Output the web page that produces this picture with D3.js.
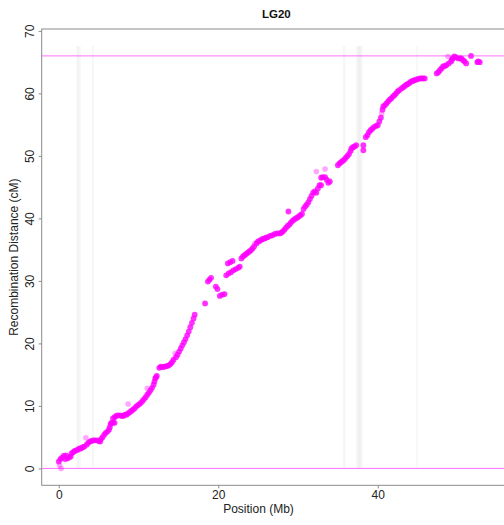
<!DOCTYPE html>
<html>
<head>
<meta charset="utf-8">
<script src="https://cdn.jsdelivr.net/npm/d3@7/dist/d3.min.js"></script>
<style>
  html, body { margin: 0; padding: 0; background: #fff; }
  svg { display: block; font-family: "Liberation Sans", Arial, Helvetica, sans-serif; }
</style>
</head>
<body>
<svg id="chart" width="504" height="525"></svg>
<script>
// Linkage group 20: marker physical position (Mb) vs. genetic map position (cM)
const positionMb = [
  0.0, 0.2, 0.4, 0.6, 0.8, 0.9, 1.1, 1.3, 1.5, 1.6, 1.8, 2.0, 2.2, 2.4, 2.6, 2.8, 3.0, 3.2,
  3.5, 3.7, 3.9, 4.1, 4.3, 4.5, 4.8, 5.0, 5.2, 5.3, 5.5, 5.7, 5.9, 6.1, 6.3, 6.4, 6.5, 6.6,
  6.8, 7.0, 6.8, 7.0, 7.2, 7.4, 7.7, 7.9, 8.1, 8.3, 8.5, 8.7, 8.9, 9.1, 9.3, 9.5, 9.7, 9.9,
  10.1, 10.3, 10.5, 10.7, 10.9, 11.1, 11.3, 11.5, 11.7, 11.9, 12.0, 12.1, 12.2, 12.3,
  12.6, 12.8, 13.0, 13.2, 13.4, 13.6, 13.8, 14.0, 14.2, 14.4, 14.7, 14.9, 15.1, 15.3,
  15.5, 15.7, 15.9, 16.1, 16.3, 16.5, 16.7, 16.9, 17.05,
  18.35, 18.7, 18.9, 19.1, 19.7, 19.9, 20.2, 20.5, 20.8,
  21.0, 21.3, 21.6, 21.9, 22.2, 22.5, 22.7, 21.2, 21.5, 21.8,
  22.9, 23.1, 23.3, 23.5, 23.7, 23.9, 24.1, 24.3, 24.5, 24.8, 25.0, 25.2, 25.4, 25.6,
  25.8, 26.0, 26.2, 26.5, 26.8, 27.1, 27.4, 27.7, 27.9, 28.1, 28.3, 28.5, 28.7, 28.8,
  28.9, 29.1, 29.3, 29.5, 29.7, 29.9, 30.1, 30.3, 30.5, 30.7, 30.9, 31.1, 31.3, 31.5,
  31.7, 31.9, 32.1, 32.3, 32.5, 32.7, 32.9, 32.9, 33.1, 33.4, 33.6, 33.8, 34.0,
  35.0, 35.2, 35.4, 35.6, 35.8, 36.0, 36.2, 36.4, 36.6, 36.7, 36.9, 37.1, 37.3,
  38.2, 38.2, 38.5, 38.7, 38.9, 39.1, 39.3, 39.5, 39.8, 40.0, 40.2, 40.4, 40.6, 40.7,
  40.9, 41.1, 41.3, 41.5, 41.7, 41.9, 42.1, 42.3, 42.5, 42.7, 43.0, 43.2, 43.4, 43.6,
  43.8, 44.0, 44.2, 44.4, 44.6, 44.8, 45.05, 45.3, 45.5, 45.7, 45.9,
  47.4, 47.6, 47.8, 48.0, 48.2, 48.4, 48.6, 48.9, 49.2, 49.3, 49.4, 49.6, 49.8,
  50.1, 50.3, 50.5, 50.7, 50.9, 51.1, 51.7, 52.5, 52.6, 52.8
];
const distanceCM = [
  1.1, 1.5, 1.7, 2.0, 1.5, 2.1, 1.6, 1.8, 1.9, 2.4, 2.6, 2.8, 2.9, 3.0, 3.2, 3.2, 3.4, 3.5,
  3.8, 4.1, 4.3, 4.4, 4.5, 4.5, 4.5, 4.4, 4.3, 4.7, 5.0, 5.4, 5.7, 5.9, 6.2, 6.6, 7.1, 7.3,
  7.3, 7.3, 8.0, 8.2, 8.4, 8.5, 8.5, 8.4, 8.4, 8.6, 8.6, 8.8, 9.0, 9.2, 9.4, 9.6, 9.9, 10.1,
  10.3, 10.5, 10.8, 11.1, 11.4, 11.8, 12.1, 12.5, 12.9, 13.4, 13.9, 14.4, 14.6, 14.8,
  16.1, 16.3, 16.2, 16.3, 16.3, 16.4, 16.5, 16.7, 17.0, 17.4, 17.8, 18.2, 18.7, 19.2,
  19.7, 20.2, 20.7, 21.3, 21.9, 22.6, 23.3, 24.0, 24.6,
  26.4, 29.9, 30.2, 30.5, 29.1, 28.7, 27.6, 27.8, 27.9,
  30.9, 31.2, 31.4, 31.7, 31.9, 32.1, 32.3, 32.8, 33.0, 33.2,
  33.6, 33.9, 34.1, 34.3, 34.5, 34.7, 34.9, 35.2, 35.5, 36.0, 36.3, 36.4, 36.6, 36.7,
  36.8, 36.9, 37.0, 37.2, 37.3, 37.5, 37.6, 37.6, 37.7, 37.9, 38.2, 38.5, 38.8, 41.1,
  39.0, 39.3, 39.6, 39.8, 40.0, 40.1, 40.3, 40.5, 40.7, 41.5, 41.9, 42.2, 42.6, 43.1,
  43.6, 44.1, 44.3, 44.1, 44.8, 45.3, 46.5, 45.3, 46.6, 46.6, 46.2, 45.7, 45.9,
  48.5, 48.8, 49.0, 49.2, 49.4, 49.7, 50.0, 50.3, 50.8, 51.2, 51.4, 51.5, 51.7,
  51.7, 50.9, 53.0, 53.3, 53.8, 54.1, 54.3, 54.6, 54.8, 54.9, 55.5, 56.1, 57.4, 57.9,
  58.1, 58.4, 58.7, 59.0, 59.2, 59.5, 59.7, 60.0, 60.3, 60.5, 60.8, 61.0, 61.2, 61.4,
  61.5, 61.7, 61.9, 62.0, 62.1, 62.2, 62.3, 62.4, 62.4, 62.4, 62.4,
  63.2, 63.4, 63.7, 64.0, 64.3, 64.4, 64.5, 64.8, 65.1, 65.4, 65.6, 65.9, 65.8,
  65.6, 65.6, 65.6, 65.3, 65.1, 64.8, 66.0, 65.0, 65.1, 65.0
];
// Sparse, lighter markers
const lightPositionMb = [0.1, 0.3, 3.4, 8.7, 11.1, 14.6, 24.6, 32.3, 33.4, 40.5, 48.8];
const lightDistanceCM = [0.5, 0.0, 4.9, 10.3, 12.8, 18.4, 36.0, 47.5, 47.9, 56.8, 65.9];

// Low-recombination regions shaded behind the points: [start, end] in Mb
const bandStartMb = [2.2, 2.35, 4.15, 35.65, 37.3, 37.5, 44.85];
const bandEndMb   = [2.45, 2.75, 4.4, 35.95, 38.1, 37.9, 45.05];
const bandTopCM = 67.6;

// Horizontal guides at the start and end of the map
const guideCM = [0, 66];

const xTicks = [0, 20, 40];
const yTicks = [0, 10, 20, 30, 40, 50, 60, 70];

const svg = d3.select("#chart");
const plotLeft = 41.7, plotRight = 512, plotTop = 29, plotBottom = 485.3;

const x = d3.scaleLinear().domain([-2.14, 56.84]).range([plotLeft, plotRight]);
const y = d3.scaleLinear().domain([-2.7, 70.3]).range([plotBottom, plotTop]);

// Shaded bands
svg.append("g").selectAll("rect")
  .data(d3.range(bandStartMb.length))
  .join("rect")
  .attr("x", i => x(bandStartMb[i]))
  .attr("width", i => x(bandEndMb[i]) - x(bandStartMb[i]))
  .attr("y", y(bandTopCM))
  .attr("height", y(0) - y(bandTopCM))
  .attr("fill", "#e4e4e4")
  .attr("fill-opacity", 0.35);

// Guide lines
svg.append("g").selectAll("line")
  .data(guideCM)
  .join("line")
  .attr("x1", plotLeft).attr("x2", plotRight)
  .attr("y1", d => y(d)).attr("y2", d => y(d))
  .attr("stroke", "#ff70ff")
  .attr("stroke-width", 1);

// Points
svg.append("g").selectAll("circle")
  .data(d3.range(lightPositionMb.length))
  .join("circle")
  .attr("cx", i => x(lightPositionMb[i]))
  .attr("cy", i => y(lightDistanceCM[i]))
  .attr("r", 2.8)
  .attr("fill", "#ff00ff")
  .attr("fill-opacity", 0.35);

svg.append("g").selectAll("circle")
  .data(d3.range(positionMb.length))
  .join("circle")
  .attr("cx", i => x(positionMb[i]))
  .attr("cy", i => y(distanceCM[i]))
  .attr("r", 2.9)
  .attr("fill", "#ff00ff")
  .attr("fill-opacity", 0.8);

// Plot frame
svg.append("rect")
  .attr("x", plotLeft).attr("y", plotTop)
  .attr("width", plotRight - plotLeft).attr("height", plotBottom - plotTop)
  .attr("fill", "none")
  .attr("stroke", "#8a8a8a")
  .attr("stroke-width", 1);

// X axis
const gx = svg.append("g")
  .attr("transform", `translate(0,${plotBottom})`)
  .call(d3.axisBottom(x).tickValues(xTicks).tickSize(3).tickSizeOuter(0).tickPadding(2));
gx.select(".domain").remove();
gx.selectAll(".tick line").attr("stroke", "#8a8a8a");
gx.selectAll(".tick text")
  .attr("font-size", 12)
  .attr("fill", "#222")
  .attr("font-family", "Liberation Sans, Arial, sans-serif");

// Y axis with rotated labels
const gy = svg.append("g")
  .attr("transform", `translate(${plotLeft},0)`)
  .call(d3.axisLeft(y).tickValues(yTicks).tickSize(3).tickSizeOuter(0));
gy.select(".domain").remove();
gy.selectAll(".tick line").attr("stroke", "#8a8a8a");
gy.selectAll(".tick text")
  .attr("x", 0).attr("dy", null)
  .attr("transform", "translate(-11.5,0) rotate(-90)")
  .attr("text-anchor", "middle")
  .attr("dominant-baseline", "central")
  .attr("font-size", 12)
  .attr("fill", "#222")
  .attr("font-family", "Liberation Sans, Arial, sans-serif");

// Titles
svg.append("text")
  .attr("x", (plotLeft + plotRight) / 2 - 0.5).attr("y", 18)
  .attr("text-anchor", "middle")
  .attr("font-size", 11.5)
  .attr("font-weight", "bold")
  .attr("fill", "#111")
  .text("LG20");

svg.append("text")
  .attr("x", 258.5).attr("y", 513)
  .attr("text-anchor", "middle")
  .attr("font-size", 12)
  .attr("fill", "#222")
  .text("Position (Mb)");

svg.append("text")
  .attr("transform", `translate(14,${(plotTop + plotBottom) / 2}) rotate(-90)`)
  .attr("text-anchor", "middle")
  .attr("dominant-baseline", "central")
  .attr("font-size", 12)
  .attr("fill", "#222")
  .text("Recombination Distance (cM)");
</script>
</body>
</html>
